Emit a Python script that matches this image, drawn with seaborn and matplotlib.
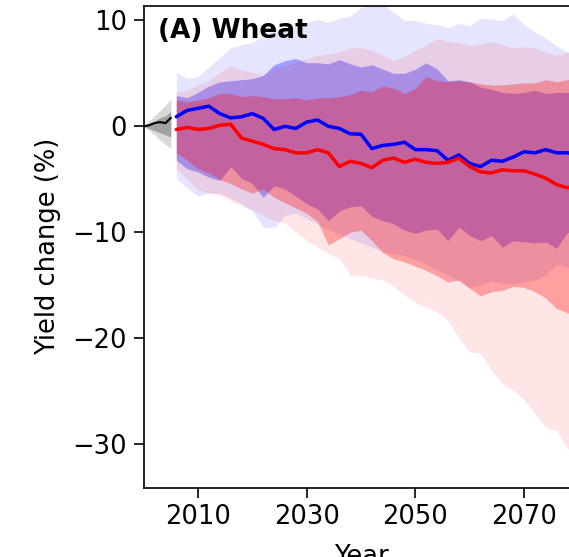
import matplotlib
matplotlib.use("Agg")
import matplotlib.pyplot as plt
import seaborn as sns

# historical period
hist_years = [2000, 2001, 2002, 2003, 2004, 2005]
hist_med = [0.0, 0.1, 0.3, 0.4, 0.3, 0.8]
hist_hi = [0.0, 0.5, 1.0, 1.5, 2.0, 2.6]
hist_lo = [0.0, -0.4, -0.8, -1.3, -1.7, -2.1]
hist_q_hi = [0.0, 0.3, 0.5, 0.8, 1.0, 1.4]
hist_q_lo = [0.0, -0.2, -0.4, -0.6, -0.8, -1.0]

# projections, every 2 years
years = list(range(2006, 2081, 2))

blue_med = [0.9, 1.5, 1.7, 1.9, 1.2, 0.8, 0.9, 1.2, 0.75, -0.3,
            0.0, -0.2, 0.4, 0.6, 0.0, -0.2, -0.7, -0.75, -2.1, -1.8,
            -1.7, -1.5, -2.2, -2.2, -2.3, -3.2, -2.7, -3.5, -3.8, -3.2,
            -3.3, -2.9, -2.4, -2.5, -2.2, -2.5, -2.5, -2.7]
blue_hi = [5.1, 4.5, 4.7, 5.6, 6.5, 7.4, 7.7, 7.9, 8.5, 9.1,
           9.2, 9.5, 9.8, 10.1, 9.8, 10.2, 10.4, 11.2, 11.6, 11.5,
           10.8, 10.0, 10.0, 9.7, 9.6, 9.3, 9.7, 9.5, 10.2, 10.1,
           10.0, 10.6, 9.6, 8.9, 8.3, 7.6, 7.0, 6.8]
blue_lo = [-4.9, -5.8, -6.6, -6.3, -6.3, -6.8, -7.3, -8.0, -9.5, -9.6,
           -8.4, -8.2, -8.7, -9.2, -9.7, -10.2, -10.6, -11.0, -11.4, -11.8,
           -12.0, -12.2, -12.6, -13.0, -13.6, -14.0, -14.6, -15.2, -15.0, -14.6,
           -14.8, -14.9, -14.7, -14.5, -14.0, -13.0, -13.3, -13.5]
blue_q_hi = [2.9, 2.7, 3.2, 3.8, 4.2, 4.3, 4.4, 4.5, 4.8, 5.8,
             6.2, 6.4, 6.0, 6.0, 5.9, 6.3, 5.9, 5.6, 5.8, 5.4,
             5.0, 5.0, 5.4, 6.0, 5.4, 4.3, 4.4, 4.2, 3.7, 3.5,
             3.2, 3.1, 3.2, 3.4, 3.1, 3.2, 3.2, 3.1]
blue_q_lo = [-3.2, -4.0, -4.3, -4.8, -5.1, -3.8, -4.9, -5.4, -6.7, -5.6,
             -5.9, -6.6, -7.3, -7.8, -8.9, -8.0, -7.6, -7.5, -8.5, -8.9,
             -9.2, -9.8, -10.1, -9.8, -9.7, -10.8, -9.5, -10.3, -10.8, -10.3,
             -11.4, -10.8, -10.9, -11.0, -10.9, -11.5, -10.0, -10.2]

red_med = [-0.3, -0.1, -0.3, -0.2, 0.1, 0.2, -1.1, -1.4, -1.7, -2.1,
           -2.2, -2.5, -2.5, -2.2, -2.5, -3.8, -3.3, -3.5, -3.9, -3.2,
           -3.0, -3.4, -3.1, -3.4, -3.5, -3.4, -3.0, -3.8, -4.3, -4.4,
           -4.1, -4.2, -4.2, -4.5, -4.9, -5.5, -5.8, -5.6]
red_hi = [3.2, 3.4, 3.9, 4.3, 5.1, 5.7, 5.3, 5.1, 4.8, 5.5,
          5.7, 6.0, 6.4, 6.7, 6.8, 7.0, 7.4, 7.4, 7.2, 6.7,
          6.2, 6.6, 7.2, 7.7, 8.3, 8.0, 7.9, 7.6, 7.8, 8.0,
          7.7, 7.4, 7.5, 7.4, 7.0, 6.7, 7.0, 6.9]
red_lo = [-4.0, -5.0, -6.0, -6.3, -6.5, -7.0, -7.5, -7.9, -8.4, -8.9,
          -9.1, -10.0, -10.8, -11.4, -12.0, -12.5, -14.0, -14.1, -14.3, -14.5,
          -15.1, -15.9, -16.6, -17.1, -17.5, -18.3, -20.0, -21.3, -21.4, -23.0,
          -24.3, -24.9, -25.8, -27.1, -28.4, -28.7, -30.4, -31.0]
red_q_hi = [2.5, 2.3, 2.5, 2.7, 3.1, 3.1, 2.8, 2.9, 2.8, 2.6,
            2.6, 2.7, 2.5, 2.7, 2.7, 2.8, 3.0, 3.4, 3.3, 3.8,
            3.6, 3.1, 3.6, 4.7, 4.3, 4.2, 4.3, 4.2, 4.0, 3.9,
            3.9, 4.0, 4.1, 4.1, 4.4, 4.2, 4.4, 4.6]
red_q_lo = [-2.5, -3.2, -4.0, -4.4, -5.0, -5.4, -5.9, -6.3, -5.9, -6.7,
            -7.2, -7.7, -8.2, -9.0, -11.2, -10.6, -10.0, -9.8, -10.8, -11.9,
            -12.5, -12.8, -13.2, -13.6, -14.1, -14.7, -14.5, -15.3, -16.0, -15.6,
            -15.5, -15.1, -15.2, -15.6, -16.2, -17.2, -17.6, -17.8]

sns.set_theme(style="ticks")
plt.rcParams["font.family"] = ["DejaVu Sans"]
plt.rcParams["axes.edgecolor"] = "black"
plt.rcParams["text.color"] = "black"
plt.rcParams["axes.labelcolor"] = "black"
plt.rcParams["xtick.color"] = "black"
plt.rcParams["ytick.color"] = "black"

fig = plt.figure(figsize=(5.69, 5.57), dpi=100)
ax = fig.add_axes([0.2525, 0.1244, 0.764, 0.8657])

# gray spread for the historical period
ax.fill_between(hist_years, hist_lo, hist_hi, color="gray", alpha=0.3, lw=0)
ax.fill_between(hist_years, hist_q_lo, hist_q_hi, color="black", alpha=0.25, lw=0)

# scenario spreads
ax.fill_between(years, blue_lo, blue_hi, color="blue", alpha=0.1, lw=0)
ax.fill_between(years, blue_q_lo, blue_q_hi, color="blue", alpha=0.3, lw=0)
ax.fill_between(years, red_lo, red_hi, color="red", alpha=0.1, lw=0)
ax.fill_between(years, red_q_lo, red_q_hi, color="red", alpha=0.3, lw=0)

sns.lineplot(x=hist_years, y=hist_med, color="black", lw=1.5, ax=ax)
sns.lineplot(x=years, y=blue_med, color="blue", lw=2.5, ax=ax)
sns.lineplot(x=years, y=red_med, color="red", lw=2.5, ax=ax)

ax.set_xlim(2000, 2080)
ax.set_ylim(-34.1, 11.4)
ax.set_xticks([2010, 2030, 2050, 2070])
ax.set_yticks([-30, -20, -10, 0, 10])
ax.tick_params(labelsize=18.5, length=7, width=1.2, pad=5, color="black")
for s in ax.spines.values():
    s.set_linewidth(1.2)

ax.set_xlabel("Year", fontsize=18.5, labelpad=10)
ax.set_ylabel("Yield change (%)", fontsize=18.5, labelpad=8)
ax.text(0.033, 0.975, "(A) Wheat", transform=ax.transAxes, va="top", ha="left",
        fontsize=19, fontweight="bold")

fig.savefig("out.png", dpi=100)
